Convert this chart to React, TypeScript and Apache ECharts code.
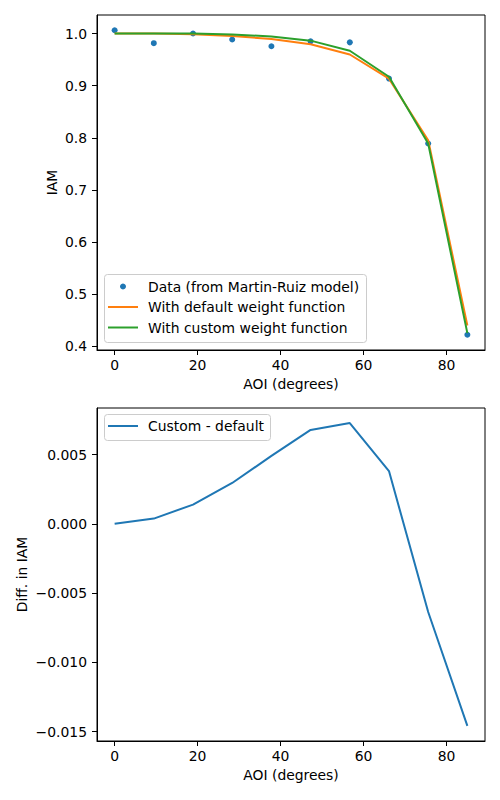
import React, { useEffect, useRef } from "react";
import * as echarts from "echarts";

// AOI (degrees)
const aoi = [0, 9.44, 18.89, 28.33, 37.78, 47.22, 56.67, 66.11, 75.56, 85];
// Data (from Martin-Ruiz model)
const iamData = [1.0063, 0.9814, 1.0, 0.9885, 0.9756, 0.985, 0.983, 0.9136, 0.789, 0.4222];
// With default weight function
const iamDefault = [1.0, 0.9998, 0.9985, 0.9953, 0.9895, 0.9795, 0.9597, 0.9133, 0.7953, 0.44];
// With custom weight function
const iamCustom = [1.0, 1.0002, 0.9999, 0.9982, 0.9944, 0.9863, 0.967, 0.9171, 0.789, 0.4254];
// Custom - default
const diffIam = [0.0, 0.00038, 0.00139, 0.00295, 0.0049, 0.00678, 0.00727, 0.00381, -0.00636, -0.01458];

const xTicks = [0, 20, 40, 60, 80];
const yTicksTop = [0.4, 0.5, 0.6, 0.7, 0.8, 0.9, 1.0];
const yTicksBottom = [-0.015, -0.01, -0.005, 0, 0.005];

const legendTop = ["Data (from Martin-Ruiz model)", "With default weight function", "With custom weight function"];
const legendBottom = ["Custom - default"];

const FONT = "DejaVu Sans";
const FS = 13.9;
const BLUE = "#1f77b4";
const ORANGE = "#ff7f0e";
const GREEN = "#2ca02c";

export default function App() {
  const ref = useRef<HTMLDivElement>(null);
  useEffect(() => {
    if (!ref.current) return;
    const chart = echarts.init(ref.current, undefined, { renderer: "svg" });
    const xAxisBase = (gridIndex: number) => ({
      type: "value",
      gridIndex,
      min: -4.25,
      max: 89.25,
      name: "AOI (degrees)",
      nameLocation: "middle",
      nameGap: 27,
      nameTextStyle: { fontFamily: FONT, fontSize: FS, color: "#000" },
      axisLine: { show: true, onZero: false, lineStyle: { color: "#000", width: 1 } },
      axisTick: { show: true, length: 5, lineStyle: { color: "#000", width: 1 }, customValues: xTicks },
      axisLabel: { fontFamily: FONT, fontSize: FS, color: "#000", margin: 8, customValues: xTicks, formatter: (v: number) => String(v) },
      splitLine: { show: false },
    });
    const option: any = {
      animation: false,
      grid: [
        { left: 97, top: 15, width: 388, height: 335, show: true, borderColor: "#000", borderWidth: 1, backgroundColor: "transparent" },
        { left: 97, top: 408, width: 388, height: 333, show: true, borderColor: "#000", borderWidth: 1, backgroundColor: "transparent" },
      ],
      xAxis: [xAxisBase(0), xAxisBase(1)],
      yAxis: [
        {
          type: "value",
          gridIndex: 0,
          min: 0.393,
          max: 1.0355,
          name: "IAM",
          nameLocation: "middle",
          nameGap: 38,
          nameMoveOverlap: false,
          nameTextStyle: { fontFamily: FONT, fontSize: FS, color: "#000" },
          axisLine: { show: true, onZero: false, lineStyle: { color: "#000", width: 1 } },
          axisTick: { show: true, length: 5, lineStyle: { color: "#000", width: 1 }, customValues: yTicksTop },
          axisLabel: { fontFamily: FONT, fontSize: FS, color: "#000", margin: 10, customValues: yTicksTop, formatter: (v: number) => v.toFixed(1) },
          splitLine: { show: false },
        },
        {
          type: "value",
          gridIndex: 1,
          min: -0.01567,
          max: 0.00836,
          name: "Diff. in IAM",
          nameLocation: "middle",
          nameGap: 68,
          nameMoveOverlap: false,
          nameTextStyle: { fontFamily: FONT, fontSize: FS, color: "#000" },
          axisLine: { show: true, onZero: false, lineStyle: { color: "#000", width: 1 } },
          axisTick: { show: true, length: 5, lineStyle: { color: "#000", width: 1 }, customValues: yTicksBottom },
          axisLabel: {
            fontFamily: FONT,
            fontSize: FS,
            color: "#000",
            margin: 10,
            customValues: yTicksBottom,
            formatter: (v: number) => (v < -1e-9 ? "\u2212" : "") + Math.abs(v).toFixed(3),
          },
          splitLine: { show: false },
        },
      ],
      series: [
        {
          type: "scatter",
          name: legendTop[0],
          xAxisIndex: 0,
          yAxisIndex: 0,
          data: aoi.map((x, i) => [x, iamData[i]]),
          symbolSize: 6,
          itemStyle: { color: BLUE, opacity: 1 },
          z: 1,
        },
        {
          type: "line",
          name: legendTop[1],
          xAxisIndex: 0,
          yAxisIndex: 0,
          data: aoi.map((x, i) => [x, iamDefault[i]]),
          showSymbol: false,
          symbol: "none",
          lineStyle: { color: ORANGE, width: 2 },
          z: 2,
        },
        {
          type: "line",
          name: legendTop[2],
          xAxisIndex: 0,
          yAxisIndex: 0,
          data: aoi.map((x, i) => [x, iamCustom[i]]),
          showSymbol: false,
          symbol: "none",
          lineStyle: { color: GREEN, width: 2 },
          z: 3,
        },
        {
          type: "line",
          name: legendBottom[0],
          xAxisIndex: 1,
          yAxisIndex: 1,
          data: aoi.map((x, i) => [x, diffIam[i]]),
          showSymbol: false,
          symbol: "none",
          lineStyle: { color: BLUE, width: 2 },
          z: 2,
        },
      ],
      graphic: [
        {
          type: "group",
          z: 100,
          children: [
            { type: "rect", shape: { x: 104.5, y: 274.5, width: 262, height: 68, r: 3 }, style: { fill: "rgba(255,255,255,0.8)", stroke: "#cccccc", lineWidth: 1 } },
            { type: "circle", shape: { cx: 123, cy: 286.5, r: 3 }, style: { fill: BLUE } },
            { type: "line", shape: { x1: 108, y1: 307, x2: 138, y2: 307 }, style: { stroke: ORANGE, lineWidth: 2 } },
            { type: "line", shape: { x1: 108, y1: 327.5, x2: 138, y2: 327.5 }, style: { stroke: GREEN, lineWidth: 2 } },
            { type: "text", x: 148, y: 286.5, style: { text: legendTop[0], fontFamily: FONT, fontSize: FS, fill: "#000", verticalAlign: "middle" } },
            { type: "text", x: 148, y: 307, style: { text: legendTop[1], fontFamily: FONT, fontSize: FS, fill: "#000", verticalAlign: "middle" } },
            { type: "text", x: 148, y: 327.5, style: { text: legendTop[2], fontFamily: FONT, fontSize: FS, fill: "#000", verticalAlign: "middle" } },
            { type: "rect", shape: { x: 104.5, y: 414.5, width: 166, height: 26, r: 3 }, style: { fill: "rgba(255,255,255,0.8)", stroke: "#cccccc", lineWidth: 1 } },
            { type: "line", shape: { x1: 108, y1: 426, x2: 138, y2: 426 }, style: { stroke: BLUE, lineWidth: 2 } },
            { type: "text", x: 148, y: 426, style: { text: legendBottom[0], fontFamily: FONT, fontSize: FS, fill: "#000", verticalAlign: "middle" } },
          ],
        },
      ],
    };
    chart.setOption(option);
    return () => chart.dispose();
  }, []);
  return <div ref={ref} style={{ position: "absolute", left: 0, top: 0, width: 500, height: 800 }} />;
}
